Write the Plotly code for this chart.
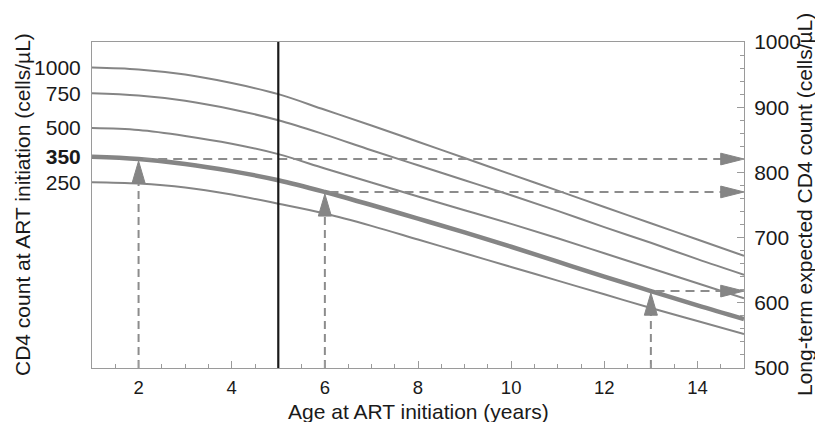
import numpy as np
import plotly.graph_objects as go

# ---------------- data ----------------
AGE = [1, 2, 3, 4, 5, 6, 7, 8, 9, 10, 11, 12, 13, 14, 15]
CURVE_LABELS = ["1000", "750", "500", "350", "250"]
CD4_1000 = [961, 958, 950, 937, 920, 896, 872, 847, 822, 797, 772, 747, 722, 697, 672]
CD4_750 = [921.5, 918, 910, 897, 880, 858, 834, 811, 788, 765, 741, 716, 692, 667, 643]
CD4_500 = [868, 865, 856, 844, 828, 806, 784.5, 763, 742, 721, 699, 676, 653, 630, 607]
CD4_350 = [824, 820.5, 813, 802, 788, 770, 750, 729, 708, 686, 663, 640, 618, 596, 575]
CD4_250 = [785, 783, 777, 766, 752, 737, 718, 697, 676, 655, 634, 613, 592, 572, 552]
CURVES = [CD4_1000, CD4_750, CD4_500, CD4_350, CD4_250]
HIGHLIGHT = "350"
ARROW_AGES = [2, 6, 13]
CUTOFF_AGE = 5
X_TICKS = [2, 4, 6, 8, 10, 12, 14]
RIGHT_TICKS = [500, 600, 700, 800, 900, 1000]
X_RANGE = [1, 15]
Y_RANGE = [500, 1000]

# ---------------- styles ----------------
GRAY = "#858585"
DASH_GRAY = "#8c8c8c"
AXIS_GRAY = "#9a9a9a"
TEXT = "#1a1a1a"
FONT = "Liberation Sans, Arial, Helvetica, sans-serif"

fig = go.Figure()

for lab, vals in zip(CURVE_LABELS, CURVES):
    fig.add_trace(go.Scatter(
        x=AGE, y=vals, mode="lines", name=lab,
        line=dict(color=GRAY, width=4.5 if lab == HIGHLIGHT else 2,
                  shape="spline", smoothing=1.0),
        hoverinfo="skip", showlegend=False))

thick = CURVES[CURVE_LABELS.index(HIGHLIGHT)]
# arrow head size (style) in data units
HEAD_LEN_Y = 34.0   # vertical arrow length (cd4 units)
HEAD_HALF_X = 0.14  # vertical arrow half width (years)
HEAD_LEN_X = 0.5    # horizontal arrow length (years)
HEAD_HALF_Y = 9.0   # horizontal arrow half height (cd4 units)

for a in ARROW_AGES:
    v = float(np.interp(a, AGE, thick))
    tip = v - 3
    # vertical dashed line from the x axis to the arrow
    fig.add_trace(go.Scatter(
        x=[a, a], y=[Y_RANGE[0], tip - HEAD_LEN_Y + 2], mode="lines",
        line=dict(color=DASH_GRAY, width=2, dash="8px,5px"),
        hoverinfo="skip", showlegend=False))
    # upward arrow head
    fig.add_trace(go.Scatter(
        x=[a - HEAD_HALF_X, a, a + HEAD_HALF_X, a - HEAD_HALF_X],
        y=[tip - HEAD_LEN_Y, tip, tip - HEAD_LEN_Y, tip - HEAD_LEN_Y],
        mode="lines", fill="toself", fillcolor=GRAY,
        line=dict(color=GRAY, width=1), hoverinfo="skip", showlegend=False))
    # horizontal dashed line to the right axis
    fig.add_trace(go.Scatter(
        x=[a + 0.1, X_RANGE[1] - HEAD_LEN_X + 0.05], y=[v, v], mode="lines",
        line=dict(color=DASH_GRAY, width=2, dash="9px,6px"),
        hoverinfo="skip", showlegend=False, yaxis="y2"))
    # right arrow head
    xe = X_RANGE[1]
    fig.add_trace(go.Scatter(
        x=[xe - HEAD_LEN_X, xe, xe - HEAD_LEN_X, xe - HEAD_LEN_X],
        y=[v - HEAD_HALF_Y, v, v + HEAD_HALF_Y, v - HEAD_HALF_Y],
        mode="lines", fill="toself", fillcolor=GRAY,
        line=dict(color=GRAY, width=1), hoverinfo="skip", showlegend=False,
        yaxis="y2", cliponaxis=False))

fig.add_shape(type="line", xref="x", yref="paper", x0=CUTOFF_AGE, x1=CUTOFF_AGE,
              y0=0, y1=1, line=dict(color="#1a1a1a", width=2.2))

left_ticktext = [("<b>%s</b>" % l) if l == HIGHLIGHT else l for l in CURVE_LABELS]

fig.update_layout(
    width=815, height=414,
    margin=dict(l=84, r=79, t=34, b=54, pad=0, autoexpand=False),
    paper_bgcolor="white", plot_bgcolor="white",
    font=dict(family=FONT, color=TEXT, size=20),
    showlegend=False,
    xaxis=dict(
        range=X_RANGE, tickvals=X_TICKS, ticks="inside", ticklen=7, tickwidth=1,
        tickcolor=AXIS_GRAY, showline=True, linecolor=AXIS_GRAY, linewidth=1,
        mirror=True, showgrid=False, zeroline=False, ticklabelstandoff=3,
        tickfont=dict(size=18.5, color=TEXT), automargin=False,
        minor=dict(dtick=0.5, ticks="inside", ticklen=4, tickcolor=AXIS_GRAY, showgrid=False),
    ),
    yaxis=dict(
        range=Y_RANGE, tickvals=[c[0] for c in CURVES], ticktext=left_ticktext,
        ticks="", showline=True, linecolor=AXIS_GRAY, linewidth=1,
        showgrid=False, zeroline=False, ticklabelstandoff=6, automargin=False,
        tickfont=dict(size=21, color=TEXT),
    ),
    yaxis2=dict(
        range=Y_RANGE, overlaying="y", side="right", tickvals=RIGHT_TICKS,
        ticks="inside", ticklen=7, tickwidth=1, tickcolor=AXIS_GRAY,
        showline=True, linecolor=AXIS_GRAY, linewidth=1, showgrid=False,
        zeroline=False, ticklabelstandoff=5, tickfont=dict(size=21, color=TEXT),
        automargin=False,
        minor=dict(dtick=20, ticks="inside", ticklen=4, tickcolor=AXIS_GRAY, showgrid=False),
    ),
)

fig.add_annotation(text="Age at ART initiation (years)", xref="paper", yref="paper",
                   x=0.5, y=0, yshift=-43, xanchor="center", yanchor="middle",
                   showarrow=False, font=dict(size=21, color=TEXT))
fig.add_annotation(text="CD4 count at ART initiation (cells/\u00b5L)", xref="paper", yref="paper",
                   x=0, y=0.5, xshift=-70, xanchor="center", yanchor="middle",
                   textangle=-90, showarrow=False, font=dict(size=21, color=TEXT))
fig.add_annotation(text="Long-term expected CD4 count (cells/\u00b5L)", xref="paper", yref="paper",
                   x=1, y=0.5, xshift=60, xanchor="center", yanchor="middle",
                   textangle=-90, showarrow=False, font=dict(size=21, color=TEXT))

fig.write_html("out.html")
